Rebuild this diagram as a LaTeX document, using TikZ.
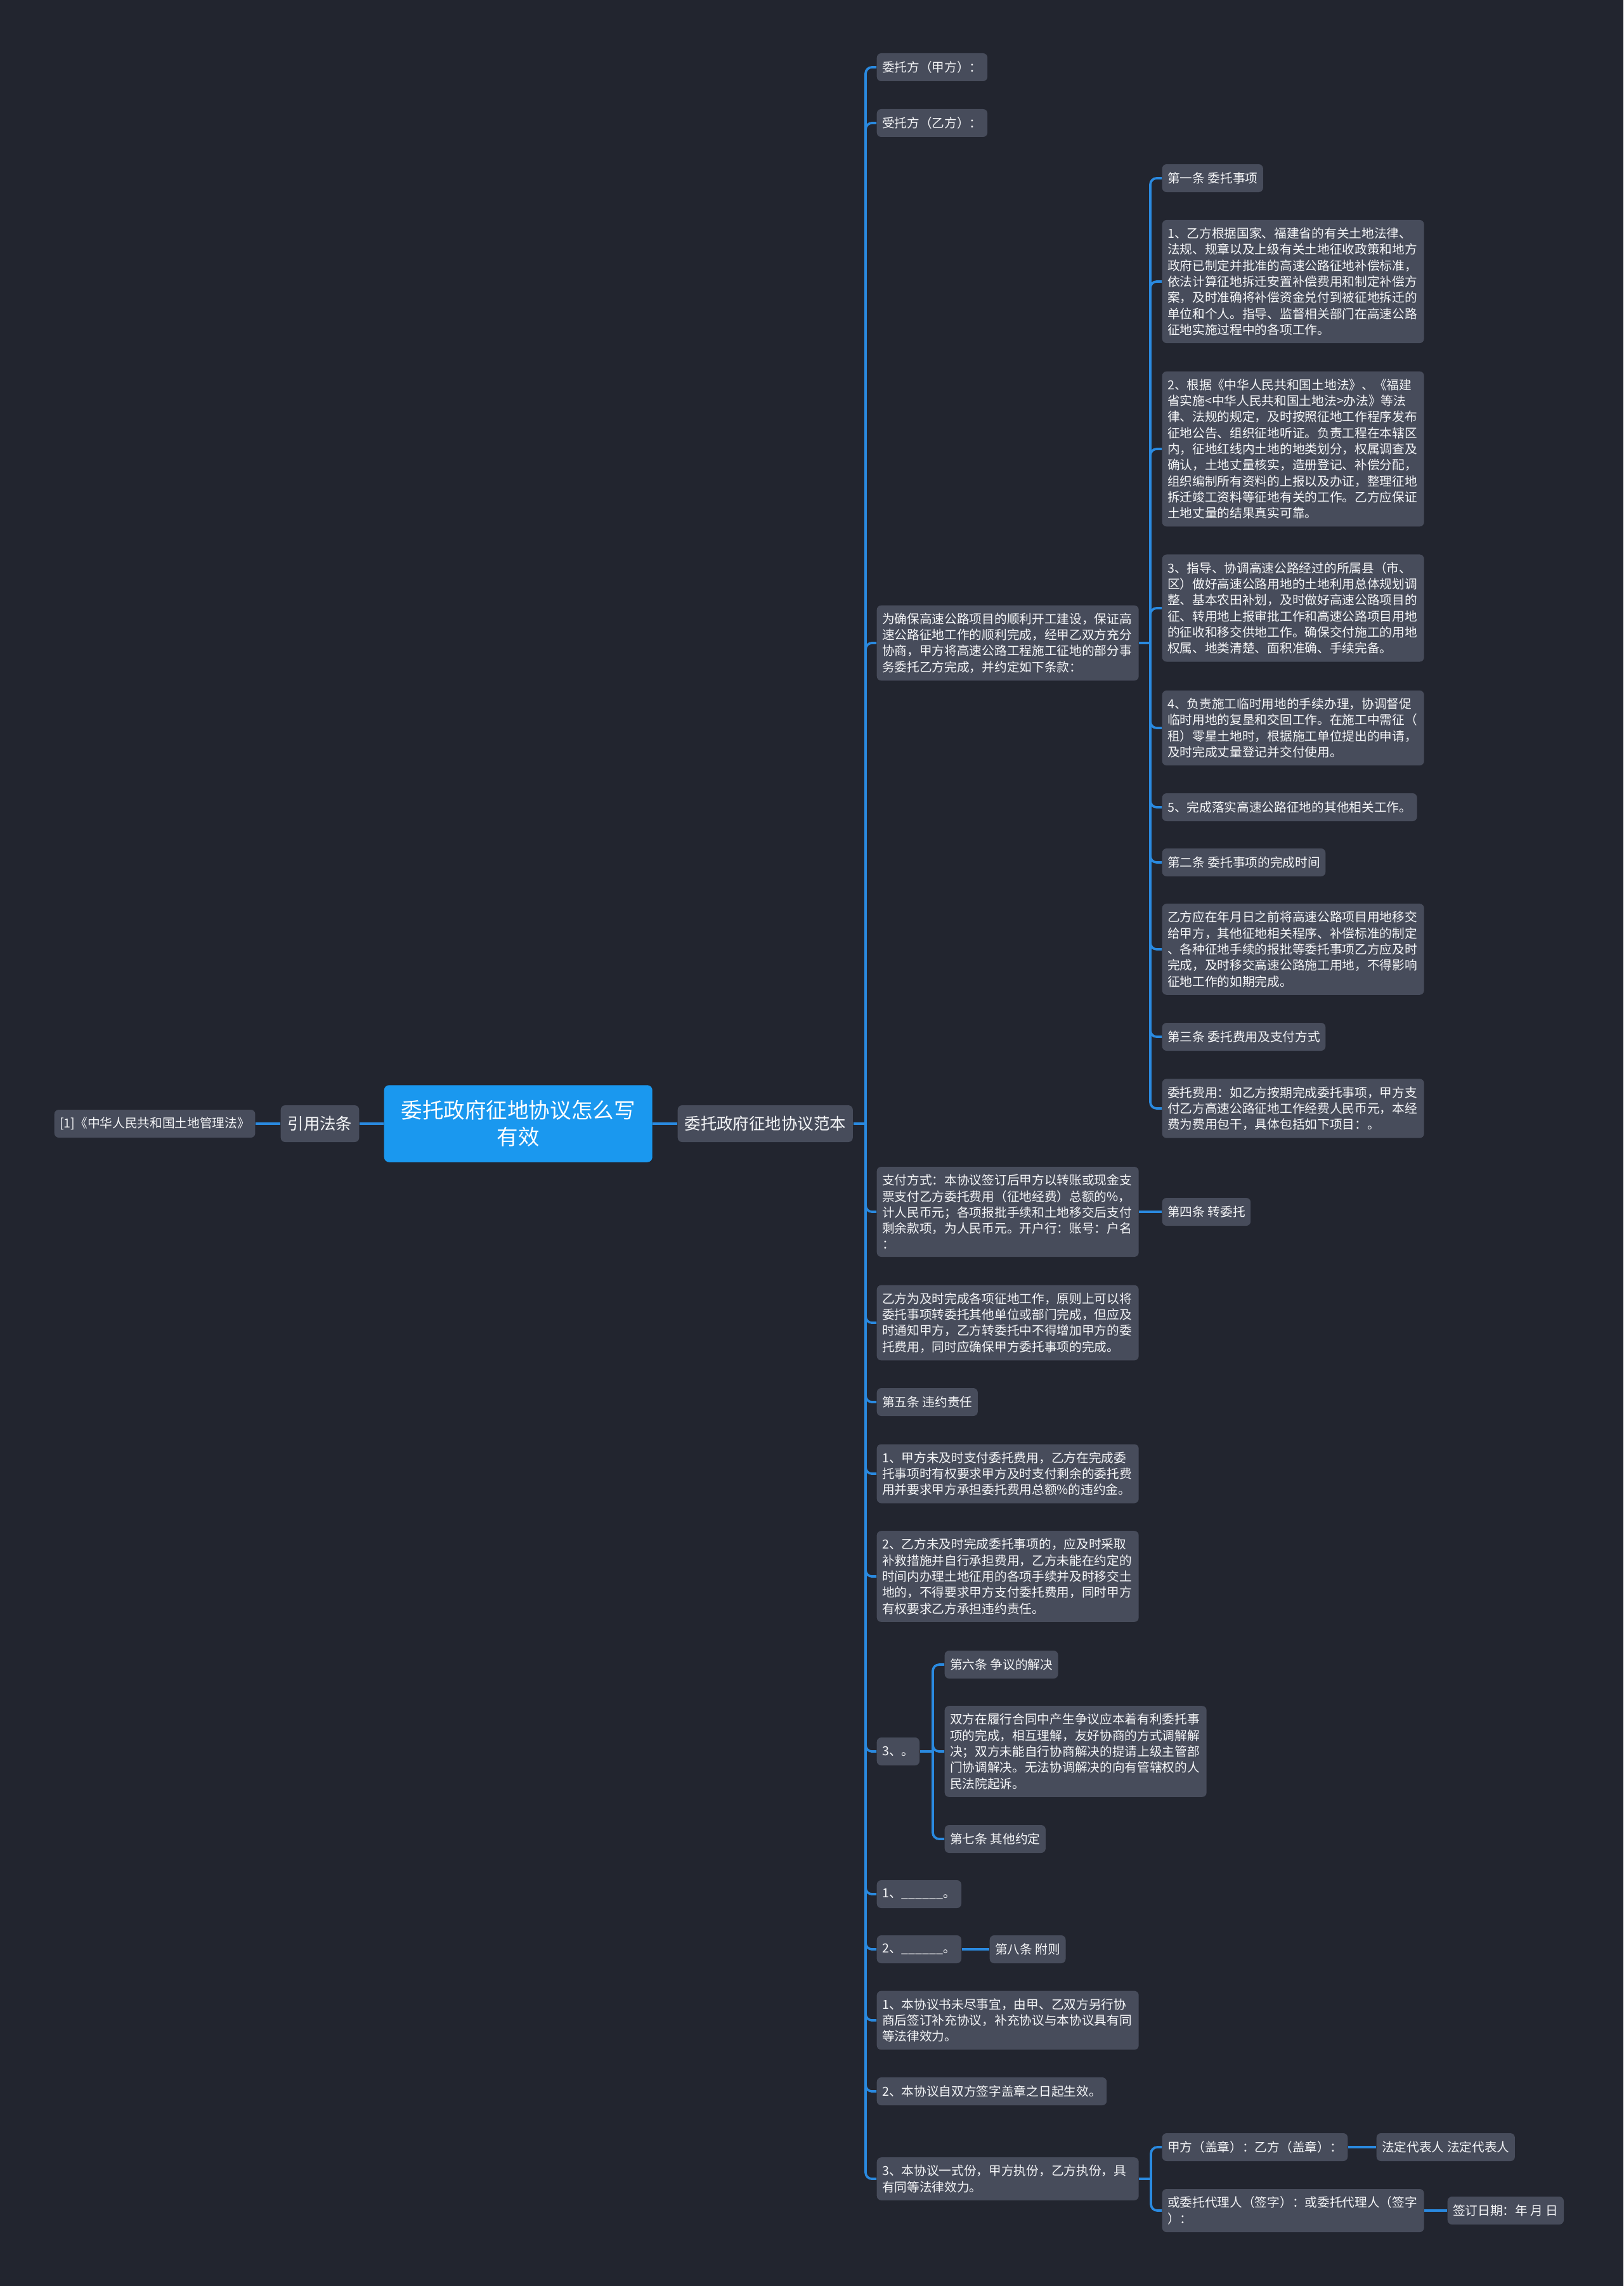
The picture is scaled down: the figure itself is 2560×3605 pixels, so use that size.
\documentclass[tikz,border=0pt]{standalone}
\usepackage{fontspec}
\setmainfont{Noto Sans CJK SC}
\definecolor{bgnavy}{HTML}{22252F}
\definecolor{boxgray}{HTML}{474C5B}
\definecolor{rootblue}{HTML}{1A98EF}
\definecolor{linkblue}{HTML}{2A8AE0}
\definecolor{txtwhite}{HTML}{F4F5F7}

\begin{document}
\begin{tikzpicture}[
  x=0.1mm, y=-0.1mm,
  root/.style={
    fill=rootblue,
    text=white,
    rounded corners=0.8mm,
    align=center,
    text width=37mm,
    inner xsep=2.65mm,
    inner ysep=2.4mm,
    font=\fontsize{9.55pt}{12pt}\selectfont,
    anchor=west
  },
  mainbox/.style={
    fill=boxgray,
    text=txtwhite,
    rounded corners=0.7mm,
    inner xsep=1.1mm,
    inner ysep=0pt,
    minimum height=5.8mm,
    font=\fontsize{7.23pt}{9pt}\selectfont,
    anchor=west
  },
  leaf/.style={
    fill=boxgray,
    text=txtwhite,
    rounded corners=0.7mm,
    align=left,
    inner xsep=0.85mm,
    inner ysep=1.2mm,
    minimum height=4.4mm,
    font=\fontsize{5.6pt}{7.2pt}\selectfont,
    anchor=west
  },
  para/.style={leaf, text width=39.6mm},
  link/.style={draw=linkblue, line width=1.05pt, rounded corners=1mm},
  trunk/.style={link, line width=1.4pt}
]

\fill[bgnavy] (0,0) rectangle (2560,3605);
\useasboundingbox (0,0) rectangle (2560,3605);

\node[root] (root) at (605,1772) {委托政府征地协议怎么写\\有效};
\node[mainbox] (yinyong) at (442,1772) {引用法条};
\node[leaf] (fagui) at (85,1772) {[1]《中华人民共和国土地管理法》};
\node[mainbox] (fanben) at (1068,1772) {委托政府征地协议范本};

\node[leaf] (jiafang) at (1382,106) {委托方（甲方）：};
\node[leaf] (yifang) at (1382,194) {受托方（乙方）：};
\node[para] (weique) at (1382,1014) {为确保高速公路项目的顺利开工建设，保证高\\速公路征地工作的顺利完成，经甲乙双方充分\\协商，甲方将高速公路工程施工征地的部分事\\务委托乙方完成，并约定如下条款：};
\node[para] (zhifu) at (1382,1911) {支付方式：本协议签订后甲方以转账或现金支\\票支付乙方委托费用（征地经费）总额的\%，\\计人民币元；各项报批手续和土地移交后支付\\剩余款项，为人民币元。开户行：账号：户名\\：};
\node[para] (zhuan) at (1382,2086) {乙方为及时完成各项征地工作，原则上可以将\\委托事项转委托其他单位或部门完成，但应及\\时通知甲方，乙方转委托中不得增加甲方的委\\托费用，同时应确保甲方委托事项的完成。};
\node[leaf] (diwu) at (1382,2211) {第五条 违约责任};
\node[para] (weiyue1) at (1382,2324) {1、甲方未及时支付委托费用，乙方在完成委\\托事项时有权要求甲方及时支付剩余的委托费\\用并要求甲方承担委托费用总额\%的违约金。};
\node[para] (weiyue2) at (1382,2486) {2、乙方未及时完成委托事项的，应及时采取\\补救措施并自行承担费用，乙方未能在约定的\\时间内办理土地征用的各项手续并及时移交土\\地的，不得要求甲方支付委托费用，同时甲方\\有权要求乙方承担违约责任。};
\node[leaf] (sanhao) at (1382,2762) {3、。};
\node[leaf] (kong1) at (1382,2987) {1、\_\_\_\_\_\_。};
\node[leaf] (kong2) at (1382,3074) {2、\_\_\_\_\_\_。};
\node[para] (fuze1) at (1382,3186) {1、本协议书未尽事宜，由甲、乙双方另行协\\商后签订补充协议，补充协议与本协议具有同\\等法律效力。};
\node[leaf] (fuze2) at (1382,3298) {2、本协议自双方签字盖章之日起生效。};
\node[para] (fuze3) at (1382,3436) {3、本协议一式份，甲方执份，乙方执份，具\\有同等法律效力。};

\node[leaf] (diyi) at (1832,281) {第一条 委托事项};
\node[para] (shixiang1) at (1832,444) {1、乙方根据国家、福建省的有关土地法律、\\法规、规章以及上级有关土地征收政策和地方\\政府已制定并批准的高速公路征地补偿标准，\\依法计算征地拆迁安置补偿费用和制定补偿方\\案，及时准确将补偿资金兑付到被征地拆迁的\\单位和个人。指导、监督相关部门在高速公路\\征地实施过程中的各项工作。};
\node[para] (shixiang2) at (1832,708) {2、根据《中华人民共和国土地法》、《福建\\省实施<中华人民共和国土地法>办法》等法\\律、法规的规定，及时按照征地工作程序发布\\征地公告、组织征地听证。负责工程在本辖区\\内，征地红线内土地的地类划分，权属调查及\\确认，土地丈量核实，造册登记、补偿分配，\\组织编制所有资料的上报以及办证，整理征地\\拆迁竣工资料等征地有关的工作。乙方应保证\\土地丈量的结果真实可靠。};
\node[para] (shixiang3) at (1832,959) {3、指导、协调高速公路经过的所属县（市、\\区）做好高速公路用地的土地利用总体规划调\\整、基本农田补划，及时做好高速公路项目的\\征、转用地上报审批工作和高速公路项目用地\\的征收和移交供地工作。确保交付施工的用地\\权属、地类清楚、面积准确、手续完备。};
\node[para] (shixiang4) at (1832,1148) {4、负责施工临时用地的手续办理，协调督促\\临时用地的复垦和交回工作。在施工中需征（\\租）零星土地时，根据施工单位提出的申请，\\及时完成丈量登记并交付使用。};
\node[leaf] (shixiang5) at (1832,1273) {5、完成落实高速公路征地的其他相关工作。};
\node[leaf] (dier) at (1832,1360) {第二条 委托事项的完成时间};
\node[para] (shijian) at (1832,1497) {乙方应在年月日之前将高速公路项目用地移交\\给甲方，其他征地相关程序、补偿标准的制定\\、各种征地手续的报批等委托事项乙方应及时\\完成，及时移交高速公路施工用地，不得影响\\征地工作的如期完成。};
\node[leaf] (disan) at (1832,1635) {第三条 委托费用及支付方式};
\node[para] (feiyong) at (1832,1748) {委托费用：如乙方按期完成委托事项，甲方支\\付乙方高速公路征地工作经费人民币元，本经\\费为费用包干，具体包括如下项目：。};
\node[leaf] (disi) at (1832,1911) {第四条 转委托};

\node[leaf] (liutiao) at (1489,2625) {第六条 争议的解决};
\node[para] (zhengyi) at (1489,2762) {双方在履行合同中产生争议应本着有利委托事\\项的完成，相互理解，友好协商的方式调解解\\决；双方未能自行协商解决的提请上级主管部\\门协调解决。无法协调解决的向有管辖权的人\\民法院起诉。};
\node[leaf] (qitiao) at (1489,2900) {第七条 其他约定};
\node[leaf] (batiao) at (1560,3074) {第八条 附则};

\node[leaf] (gaizhang) at (1832,3386) {甲方（盖章）：乙方（盖章）：};
\node[leaf] (daibiao) at (2170,3386) {法定代表人 法定代表人};
\node[para] (daili) at (1832,3486) {或委托代理人（签字）：或委托代理人（签字\\）：};
\node[leaf] (riqi) at (2282,3486) {签订日期：年 月 日};

\coordinate (busa) at (1365,1772);
\coordinate (busb) at (1814,1014);
\coordinate (busc) at (1471,2762);
\coordinate (busd) at (1815,3436);

\draw[trunk] (root.west) -- (yinyong.east);
\draw[trunk] (yinyong.west) -- (fagui.east);
\draw[trunk] (root.east) -- (fanben.west);

\draw[link] (fanben.east) -- (busa);
\foreach \kid in {jiafang,yifang,weique,zhifu,zhuan,diwu,weiyue1,weiyue2,sanhao,kong1,kong2,fuze1,fuze2,fuze3}
  \draw[link] (busa) |- (\kid.west);

\draw[link] (weique.east) -- (busb);
\foreach \kid in {diyi,shixiang1,shixiang2,shixiang3,shixiang4,shixiang5,dier,shijian,disan,feiyong}
  \draw[link] (busb) |- (\kid.west);

\draw[link] (sanhao.east) -- (busc);
\foreach \kid in {liutiao,zhengyi,qitiao}
  \draw[link] (busc) |- (\kid.west);

\draw[link] (fuze3.east) -- (busd);
\foreach \kid in {gaizhang,daili}
  \draw[link] (busd) |- (\kid.west);

\draw[link] (zhifu.east) -- (disi.west);
\draw[link] (kong2.east) -- (batiao.west);
\draw[link] (gaizhang.east) -- (daibiao.west);
\draw[link] (daili.east) -- (riqi.west);

\end{tikzpicture}
\end{document}
